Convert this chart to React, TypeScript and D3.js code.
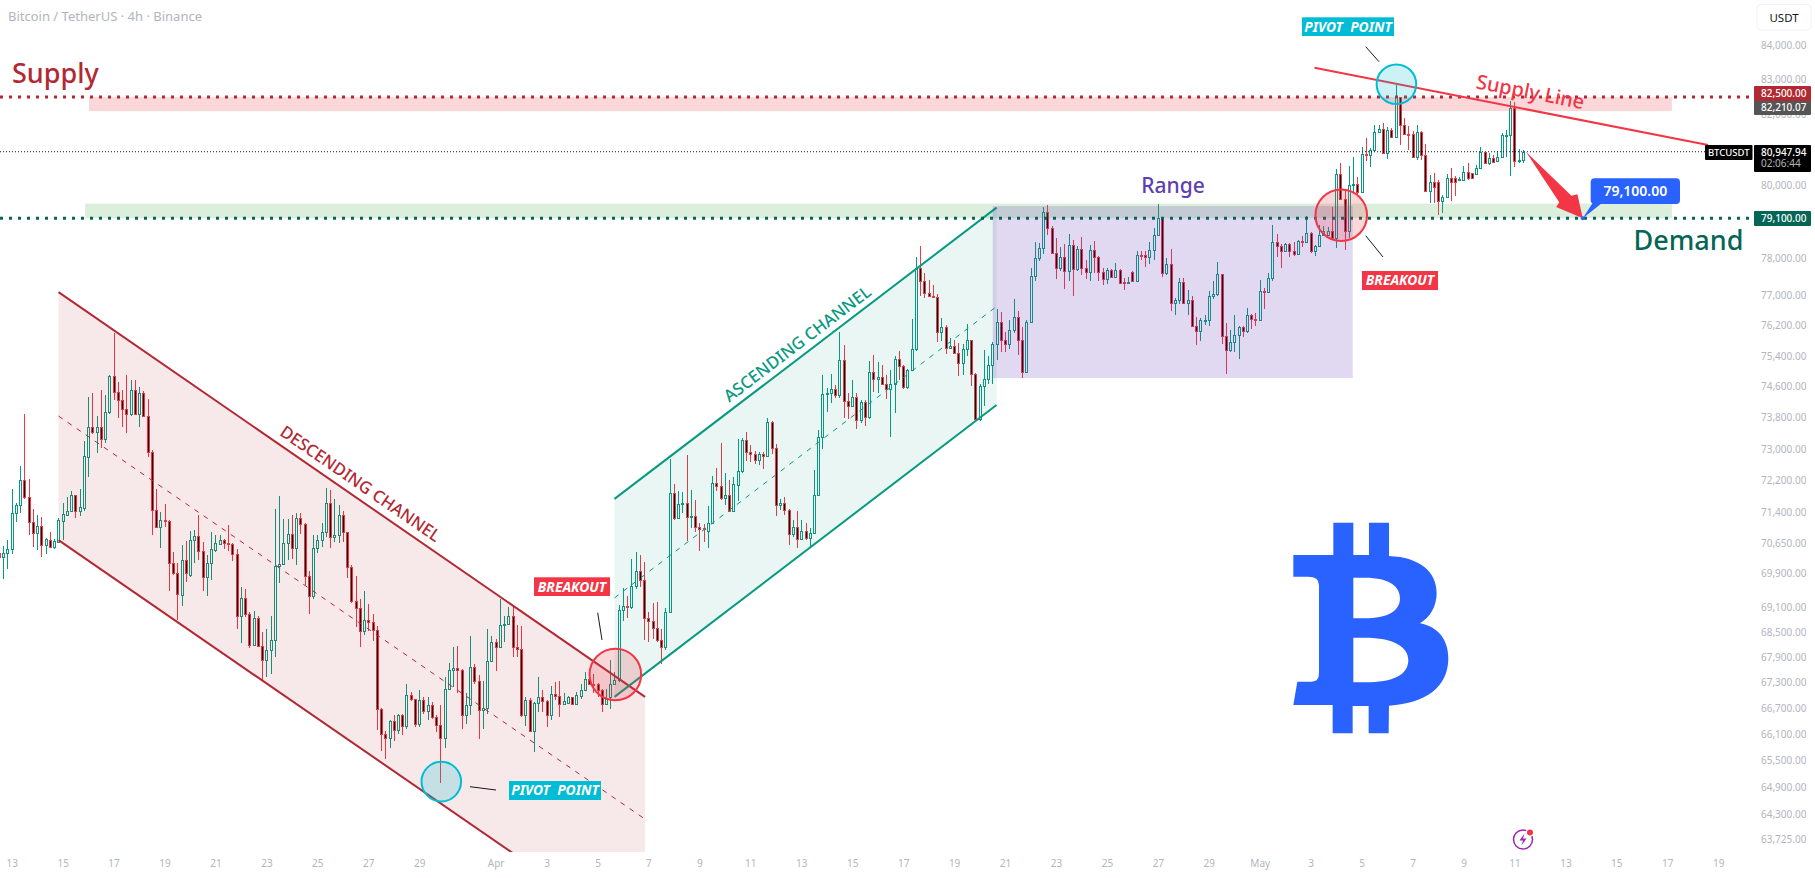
import { useEffect, useRef } from 'react'

import * as d3 from 'd3'

type Ohlc = [number, number, number, number]

// 4h candles as [open, high, low, close]
const marchCandles: Ohlc[] = [
  [70410,70430,70300,70310],[70310,70570,69770,70410],[70400,70720,70020,70510],[70510,71990,70380,71380],
  [71380,71650,71180,71600],[71600,72560,71380,72210],[72210,73900,71750,71790],[71790,72240,70840,71180],
  [71180,71480,70560,70900],[70900,71340,70480,71060],[71060,71290,70310,70590],[70590,70780,70380,70740],
  [70720,70930,70520,70560],[70560,70740,70500,70690],[70680,71260,70640,71220],[71200,71630,70720,71360],
  [71340,71780,71320,71430],[71430,71940,71410,71830],[71830,71830,71280,71430],[71450,71990,71320,71530],
  [71510,73190,71450,72810],[72800,74340,72280,73550],[73550,74430,73390,73430],[73430,73840,72900,73550],
  [73550,74510,73020,73260],[73260,74390,73160,73950],[73950,74890,73890,74870],[74870,76010,74250,74450],
  [74450,74720,73790,74250],[74250,74510,73560,74010],[74010,74890,73410,73890],[73890,74770,73840,74500],
  [74500,74780,73860,73880],[73880,74580,73550,74430],[74430,74490,73840,73850],[73850,74270,72800,72930],
  [72930,72970,70840,71460],[71460,71990,71030,71050],[71050,71420,70520,71230],[71230,71610,71050,71200],
  [71200,71220,69480,70160],[70160,70430,69880,69920],[69920,70170,68790,69400],[69390,70600,69120,70240],
  [70240,70700,69700,69920],[69880,70950,69830,70720],[70720,70970,70170,70830],[70830,71340,70230,70460],
  [70460,70680,69480,69820],[69820,70350,69370,70170],[70170,70920,69740,70500],[70480,70840,70440,70640],
  [70630,70840,70600,70720],[70720,70760,70500,70640],[70640,71100,70460,70630],[70630,70640,70210,70370],
  [70370,70500,68570,68880],[68880,69570,68230,69310],[69310,69520,68850,68920],[68920,68970,68120,68200],
  [68190,68990,68170,68830],[68830,68870,68130,68160],[68160,68490,67360,67840],[67840,68580,67440,68060],
  [68060,68890,67500,68310],[68310,71480,67910,70090],[70090,71810,69680,70130],[70130,71250,70110,70660],
  [70660,71250,70230,70880],[70880,71340,70270,70520],[70520,71400,70110,71280],[71280,71380,70860,71130],
  [71130,71150,69620,69850],[69850,69970,68920,69360],[69360,70840,69280,70540],[70540,70840,70400,70720],
  [70720,71140,70560,70920],[70920,72010,70800,71650],[71650,71970,70520,70800],[70800,71740,70680,70850],
  [70850,71580,70640,71330],[71330,71430,70680,70910],[70910,70930,69800,70070],[70070,70110,69190,69240],
  [69240,69850,68610,69060],[69060,69280,68140,68510],[68510,69480,68420,68790],[68790,69160,68520,68740],
  [68740,68920,68290,68540],[68540,68640,66200,66690],[66690,66700,65710,66100],[66100,66190,65530,66030],
  [66030,66430,65800,66400],[66400,66550,65940,66210],[66210,66580,66120,66540],[66540,66580,66080,66290],
  [66290,67270,66230,67010],[67010,67090,66880,66910],[66910,66930,66270,66350],[66350,67120,66270,66900],
  [66900,66960,66580,66640],[66640,66960,66430,66790],[66790,66850,66460,66500],[66500,66560,66150,66320],
  [66320,66770,65000,66010],[66010,67440,65780,67160],[67160,67760,67120,67610],[67610,68140,67200,67650],
  [67650,68160,67050,67610],[67610,67630,66230,66540],[66540,67050,66350,66790],[66790,68400,66540,67670],
  [67670,67750,67260,67340],[67340,67480,65990,66670],[66670,67350,66230,66710],[66710,68580,66580,67820],
  [67820,68400,67780,68270],
]

const aprilCandles: Ohlc[] = [
  [68270,68330,67570,68140],[68140,69290,68120,68670],[68670,68890,68260,68690],[68690,69100,68670,68890],
  [68890,69150,67910,68140],[68140,68660,67910,68100],[68100,68630,66500,66540],[66540,66970,66300,66900],
  [66900,66940,66150,66190],[66190,66840,65690,66820],[66820,67440,66610,66960],[66960,67130,66610,66880],
  [66880,66900,66270,66540],[66540,67220,66430,67030],[67030,67320,66900,67000],[67000,67350,66500,66800],
  [66800,67070,66770,66880],[66830,66980,66800,66960],[66960,66970,66790,66810],[66800,67090,66780,67010],
  [67000,67270,66930,67140],[67140,67540,67110,67380],[67380,67400,67260,67280],[67280,67500,67050,67260],
  [67270,67290,66970,67140],[67140,67160,66610,66800],[66800,67160,66800,66920],[66970,67840,66690,67270],
  [67270,67560,67250,67360],[67360,69140,67310,69020],[69020,69560,68770,69110],[69110,69350,68830,69100],
  [69100,70270,69050,69600],[69600,70420,69540,69970],[69970,70350,69580,69740],[69740,70190,68310,68830],
  [68830,68980,68260,68770],[68770,69190,68330,68600],[68600,69210,68260,68310],[68310,68580,67750,68140],
  [68140,69080,68080,68980],[68980,72740,68940,71900],[71900,72110,71230,71260],[71260,71940,71260,71610],
  [71610,71910,71400,71640],[71640,72840,70700,71300],[71300,71960,71020,71320],[71320,71720,70910,71050],
  [71050,71140,70460,70990],[71020,71120,70680,70990],[70950,71560,70530,71140],[71140,72320,71110,72130],
  [72130,72530,71940,72070],[72070,73140,71710,71770],[71770,72380,71590,71850],[71850,72210,71420,71440],
  [71440,72300,71420,72110],[72090,73240,71690,72450],[72450,73270,72390,73230],[73230,73430,72700,72920],
  [72920,73100,72670,72860],[72860,72940,72610,72730],[72730,72920,72590,72880],[72880,72920,72500,72820],
  [72820,73780,72810,73680],[73680,73710,72880,73030],[73030,73120,71310,71590],[71590,71750,71460,71640],
  [71640,71780,71340,71460],[71460,71490,70600,70880],[70880,71220,70800,71050],[71050,71440,70520,70740],
  [70740,71220,70720,70950],[70950,71140,70720,70780],[70780,71020,70560,70900],[70900,72460,70870,71850],
  [71850,73480,71810,73310],[73310,74900,73000,74410],[74410,74560,73950,74430],[74430,74920,74170,74530],
  [74530,74640,74300,74370],[74370,76030,74300,75300],[75300,75690,73790,74230],[74230,74430,73770,74110],
  [74110,74770,74100,74320],[74320,74430,73500,73730],[73730,74250,73670,74190],[74190,74250,73580,73820],
  [73820,75260,73770,74980],[74980,75420,74470,74790],[74790,75240,74440,74850],[74850,75160,74640,74680],
  [74680,74900,74280,74530],[74550,75030,73310,74680],[74680,75390,73920,75330],[75330,75520,74780,75140],
  [75140,75160,74530,74600],[74600,75070,74530,75040],[75040,76370,75000,75570],[75570,78030,75530,77740],
  [77740,78340,77000,77400],[77400,77600,76930,77060],[77060,77420,76960,76980],[76980,77290,76960,76970],
  [76970,77050,75770,76020],[76020,76390,75780,76150],[76150,76220,75460,75620],[75620,75880,75570,75660],
  [75660,75830,75460,75480],[75480,75740,74880,75220],[75220,75700,74910,75590],[75590,76230,75390,75830],
  [75830,75830,74620,74940],[74940,74960,73750,73760],[73760,74680,73710,74620],[74620,75550,74100,74800],
  [74800,75390,74680,75170],[75170,75770,74680,75710],[75710,76650,75290,76290],[76290,76550,75510,75830],
  [75830,76040,75490,75700],[75700,76350,75590,76070],[76070,76920,76010,76430],[76430,76590,75420,75810],
  [75810,76170,74830,74980],[74980,76350,74970,76300],[76300,77740,76280,77520],[77520,78460,77380,78010],
  [78010,78430,77920,78280],[78280,79400,78120,79260],[79260,79470,78640,78820],[78820,78890,78140,78160],
  [78160,78550,77450,77730],[77730,78300,77670,78030],[78030,78400,77170,77670],[77670,78660,77380,78360],
  [78360,78500,76980,77710],[77710,78350,77650,78260],[78260,78580,77560,77740],[77740,77960,77440,77620],
  [77620,78370,77400,78230],[78230,78480,77600,78030],[78030,78070,77380,77620],[77620,77740,77270,77440],
  [77440,77740,77310,77690],[77690,77710,77470,77490],[77490,77870,77470,77690],[77690,77720,77310,77330],
  [77350,77470,77140,77330],[77330,77510,77310,77370],[77630,77660,77350,77380],[77380,78210,77350,78090],
  [78090,78210,77960,78070],[78090,78210,77780,78030],[78030,78460,77850,78230],[78230,78820,77960,78640],
  [78640,79490,78600,79100],[79100,79140,77490,77600],[77600,78010,77560,77850],[77850,78260,76580,76800],
  [76800,76930,76470,76870],[76870,77470,76770,77360],[77360,77470,76780,76790],[76790,77150,76470,76880],
  [76880,76990,76180,76200],[76200,76420,75680,76050],[76050,76400,75790,76340],[76340,76480,76210,76360],
  [76360,77110,76200,77000],[77000,77380,76910,77040],[77040,77900,77000,77580],[77580,77590,75720,75920],
  [75920,76270,74940,75550],[75550,76090,75510,75770],[75770,76490,75500,75940],[75940,76180,75330,76160],
  [76160,76180,75890,76050],[76050,76660,76000,76490],[76490,76520,76110,76380],[76380,76530,76180,76340],
]

const mayCandles: Ohlc[] = [
  [76340,77420,76330,77120],[77120,77200,76650,77100],[77100,77600,77070,77470],[77470,78910,77380,78440],
  [78440,78660,78050,78350],[78350,78400,77750,78210],[78210,78410,78190,78400],[78400,78430,78050,78190],
  [78190,78460,78070,78130],[78130,78500,78120,78480],[78480,78600,78300,78460],[78460,79160,78430,78690],
  [78690,78710,78140,78190],[78190,78370,78070,78350],[78350,78920,78320,78640],[78640,78890,78600,78750],
  [78640,78870,78620,78750],[78750,79420,78520,78550],[78550,80460,78280,80320],[80320,80620,79600,79640],
  [79640,79880,78230,78760],[78760,80550,78550,80020],[80020,80790,79820,80040],[80040,80250,79760,79830],
  [79830,81090,79790,80880],[80880,81330,80690,80850],[80850,81040,80530,81000],[81000,81700,80950,81500],
  [81500,81700,81470,81580],[81580,81770,80900,80910],[80910,81660,80740,81560],[81560,81610,81330,81360],
  [81360,82850,81330,82500],[82500,82510,81140,81700],[81700,81900,81420,81450],[81450,81680,81000,81440],
  [81440,81520,80790,80810],[80810,81700,80720,81500],[81500,81520,80720,80860],[80860,81170,79860,79860],
  [79860,80300,79510,80110],[80110,80340,79510,79970],[80110,80160,79190,79560],[79560,79740,79250,79680],
  [79680,80330,79650,80210],[80210,80480,79560,80110],[80200,80270,79720,80090],[80150,80250,80130,80180],
  [80160,80560,80140,80370],[80370,80620,80160,80200],[80340,80360,80180,80200],[80330,80580,80300,80500],
  [80500,81090,80480,80930],[80930,80950,80620,80640],[80640,80900,80580,80780],[80780,80860,80650,80670],
  [80700,80970,80680,80810],[80810,81490,80770,81420],[81400,81550,80810,81420],[81420,82400,80280,82180],
  [82180,82370,80530,80700],[80700,81030,80620,80720],[80720,81000,80620,80950],
]

const priceTicks = [
  84000, 83000, 82000, 80000, 79000, 78000, 77000, 76200, 75400, 74600, 73800, 73000, 72200, 71400,
  70650, 69900, 69100, 68500, 67900, 67300, 66700, 66100, 65500, 64900, 64300, 63725,
]
const marchDays = [13, 15, 17, 19, 21, 23, 25, 27, 29]
const aprilDays = [1, 3, 5, 7, 9, 11, 13, 15, 17, 19, 21, 23, 25, 27, 29]
const mayDays = [1, 3, 5, 7, 9, 11, 13, 15, 17, 19]

const supplyLevel = 82500
const demandLevel = 79100
const lastPrice = 80947.94
const avgPrice = 82210.07

// drawing anchors as [bar number, price]
const descUpper = [[13.03, 77093], [151.2, 66970]]
const descMiddle = [[13.03, 73839], [151.2, 64182]]
const descLower = [[13.03, 70721], [151.2, 61450]]
const ascUpper = [[144, 71744], [234, 79390]]
const ascMiddle = [[144, 69316], [234, 76707]]
const ascLower = [[144, 66970], [234, 74122]]
const rangeBox = [[233.1, 79433], [317.9, 74821]]
const supplyZone = [[20.2, 82500], [393.1, 82100]]
const demandZone = [[19.3, 79500], [393.1, 79100]]
const supplyLine = [[308.9, 83348], [401.6, 81137]]
const redCircles = [[144.2, 67493], [315.2, 79181]]
const tealCircles = [[103.2, 65025], [328.2, 82868]]
const arrowEnds = [[358.7, 80947.94], [372.1, 79100]]

const FONT = "'Noto Sans', sans-serif"
const WIDTH = 1815
const HEIGHT = 878
const PANE_W = 1754
const PANE_H = 852
const UP = '#089981'
const DOWN = '#f23645'
const H4 = 4 * 3600 * 1000

export default function App() {
  const svgRef = useRef<SVGSVGElement>(null)

  useEffect(() => {
    if (!svgRef.current) return
    const svg = d3.select(svgRef.current)
    svg.selectAll('*').remove()

    const yScale = d3.scaleLog().domain([63725, 84000]).range([839.7, 45.3])
    const xScale = d3
      .scaleUtc()
      .domain([Date.UTC(2026, 2, 13), Date.UTC(2026, 4, 19)])
      .range([11.7, 1718.2])

    const barTime = (n: number) => Date.UTC(2026, 2, 12, 16) + n * H4
    const barX = (n: number) => xScale(barTime(n))
    const px = (p: number[]) => [barX(p[0]), yScale(p[1])]

    svg
      .append('defs')
      .append('clipPath')
      .attr('id', 'pane')
      .append('rect')
      .attr('width', PANE_W)
      .attr('height', PANE_H)

    // Axes
    const dayTicks = [
      ...marchDays.map((d) => new Date(Date.UTC(2026, 2, d))),
      ...aprilDays.map((d) => new Date(Date.UTC(2026, 3, d))),
      ...mayDays.map((d) => new Date(Date.UTC(2026, 4, d))),
    ]
    const xAxis = svg
      .append('g')
      .attr('transform', `translate(0,${PANE_H + 2})`)
      .call(
        d3
          .axisBottom(xScale)
          .tickValues(dayTicks)
          .tickSize(0)
          .tickPadding(6)
          .tickFormat((d) => {
            const t = d as Date
            if (t.getUTCDate() === 1) return d3.utcFormat('%b')(t)
            return String(t.getUTCDate())
          }),
      )
    xAxis.select('.domain').remove()
    xAxis
      .selectAll('text')
      .attr('font-family', FONT)
      .attr('font-size', 10)
      .attr('fill', '#b2b5be')

    const yAxis = svg
      .append('g')
      .attr('transform', 'translate(1761,0)')
      .call(d3.axisRight(yScale).tickValues(priceTicks).tickSize(0).tickPadding(0).tickFormat(d3.format(',.2f') as any))
    yAxis.select('.domain').remove()
    yAxis
      .selectAll('text')
      .attr('font-family', FONT)
      .attr('font-size', 10)
      .attr('fill', '#b2b5be')

    const pane = svg.append('g').attr('clip-path', 'url(#pane)')

    // Candles
    const bars = [...marchCandles, ...aprilCandles, ...mayCandles].map((c, i) => ({
      n: i - 1,
      open: c[0],
      high: c[1],
      low: c[2],
      close: c[3],
      up: c[3] >= c[0],
    }))
    const candleX = (n: number) => Math.round(barX(n)) + 0.5
    const candles = pane.append('g').attr('shape-rendering', 'crispEdges')
    candles
      .selectAll('line')
      .data(bars)
      .join('line')
      .attr('x1', (d) => candleX(d.n))
      .attr('x2', (d) => candleX(d.n))
      .attr('y1', (d) => yScale(d.high))
      .attr('y2', (d) => yScale(d.low))
      .attr('stroke', (d) => (d.up ? UP : DOWN))
    candles
      .selectAll('rect')
      .data(bars)
      .join('rect')
      .attr('x', (d) => candleX(d.n) - 1)
      .attr('width', 2)
      .attr('y', (d) => Math.round(yScale(Math.max(d.open, d.close))) + 0.5)
      .attr('height', (d) =>
        Math.max(1, Math.round(yScale(Math.min(d.open, d.close))) - Math.round(yScale(Math.max(d.open, d.close)))),
      )
      .attr('fill', (d) => (d.up ? '#ffffff' : '#000000'))
      .attr('stroke', (d) => (d.up ? UP : DOWN))

    // Zones and channels
    const zone = (box: number[][], fill: string) => {
      const [a, b] = [px(box[0]), px(box[1])]
      pane
        .append('rect')
        .attr('x', a[0])
        .attr('y', Math.min(a[1], b[1]))
        .attr('width', b[0] - a[0])
        .attr('height', Math.abs(b[1] - a[1]))
        .attr('fill', fill)
    }
    zone(supplyZone, 'rgba(242,54,69,0.2)')
    zone(demandZone, 'rgba(76,175,80,0.2)')

    const line = d3.line<number[]>()
    const polygon = (pts: number[][], fill: string) =>
      pane.append('path').attr('d', `${line(pts.map(px))}Z`).attr('fill', fill)
    const segment = (pts: number[][], stroke: string, width: number, dash?: string) =>
      pane
        .append('path')
        .attr('d', line(pts.map(px)))
        .attr('fill', 'none')
        .attr('stroke', stroke)
        .attr('stroke-width', width)
        .attr('stroke-dasharray', dash ?? null)

    polygon([descUpper[0], descUpper[1], descLower[1], descLower[0]], 'rgba(178,40,51,0.1)')
    segment(descUpper, '#b22833', 2)
    segment(descLower, '#b22833', 2)
    segment(descMiddle, '#b22833', 1, '5 6')

    polygon([ascUpper[0], ascUpper[1], ascLower[1], ascLower[0]], 'rgba(8,153,129,0.09)')
    segment(ascUpper, UP, 2)
    segment(ascLower, UP, 2)
    segment(ascMiddle, UP, 1, '5 6')

    zone(rangeBox, 'rgba(103,58,183,0.2)')

    // Horizontal levels
    const level = (price: number, stroke: string, width: number, dash: string, x2: number) =>
      pane
        .append('line')
        .attr('x1', 0)
        .attr('x2', x2)
        .attr('y1', yScale(price))
        .attr('y2', yScale(price))
        .attr('stroke', stroke)
        .attr('stroke-width', width)
        .attr('stroke-dasharray', dash)
    level(lastPrice, '#131722', 1, '1 2', 1705)
    level(supplyLevel, '#b22833', 3, '3 6', 1750)
    level(demandLevel, '#056656', 3, '3 6', 1750)

    segment(supplyLine, DOWN, 2)

    // Circles
    const circle = (p: number[], r: number, stroke: string, fill: string) =>
      pane
        .append('circle')
        .attr('cx', px(p)[0])
        .attr('cy', px(p)[1])
        .attr('r', r)
        .attr('fill', fill)
        .attr('stroke', stroke)
        .attr('stroke-width', 2)
    redCircles.forEach((p) => circle(p, 25.8, DOWN, 'rgba(242,54,69,0.2)'))
    tealCircles.forEach((p) => circle(p, 19.8, '#00bcd4', 'rgba(0,188,212,0.2)'))

    // Big arrow towards the demand level
    const [from, tip] = arrowEnds.map(px)
    const dx = tip[0] - from[0]
    const dy = tip[1] - from[1]
    const len = Math.hypot(dx, dy)
    const along = (a: number, b: number) => [
      from[0] + (a * dx) / len - (b * dy) / len,
      from[1] + (a * dy) / len + (b * dx) / len,
    ]
    pane
      .append('path')
      .attr(
        'd',
        `${line([from, along(63, -6), along(65.8, -11.5), tip, along(61.7, 13), along(60, 7.5)])}Z`,
      )
      .attr('fill', DOWN)

    // Thin pointer strokes
    const pointers = [
      [1365.7, 46.7, 1379, 61.7],
      [1365.7, 235.7, 1383, 257],
      [597.7, 612.7, 602, 640],
      [470, 786.7, 496, 790],
    ]
    svg
      .append('g')
      .selectAll('line')
      .data(pointers)
      .join('line')
      .attr('x1', (d) => d[0])
      .attr('y1', (d) => d[1])
      .attr('x2', (d) => d[2])
      .attr('y2', (d) => d[3])
      .attr('stroke', '#131722')
      .attr('stroke-width', 1)

    // Filled labels
    const tag = (x: number, y: number, w: number, h: number, fill: string, label: string) => {
      svg.append('rect').attr('x', x).attr('y', y).attr('width', w).attr('height', h).attr('fill', fill)
      svg
        .append('text')
        .attr('x', x + w / 2)
        .attr('y', y + h / 2)
        .attr('dy', '0.36em')
        .attr('text-anchor', 'middle')
        .attr('font-family', FONT)
        .attr('font-size', 13.8)
        .attr('font-weight', 700)
        .attr('font-style', 'italic')
        .style('white-space', 'pre')
        .attr('fill', '#ffffff')
        .text(label)
    }
    tag(534, 577.3, 76, 18.7, DOWN, 'BREAKOUT')
    tag(1362, 271, 76, 19, DOWN, 'BREAKOUT')
    tag(1302, 17.3, 92, 18.7, '#00bcd4', 'PIVOT  POINT')
    tag(509, 781, 92, 19, '#00bcd4', 'PIVOT  POINT')

    // Free text
    const note = (x: number, y: number, label: string, size: number, fill: string, rotate = 0, weight = 500) =>
      svg
        .append('text')
        .attr('transform', `translate(${x},${y}) rotate(${rotate})`)
        .attr('text-anchor', 'middle')
        .attr('font-family', FONT)
        .attr('font-size', size)
        .attr('font-weight', weight)
        .attr('fill', fill)
        .text(label)
    note(55.3, 82.7, 'Supply', 27, '#b22833')
    note(1688.5, 250, 'Demand', 27, '#056656')
    note(1173, 192.7, 'Range', 21, '#5e3fb0')
    note(1529, 98.7, 'Supply Line', 20, DOWN, 11.1, 500)
    note(357, 488.5, 'DESCENDING CHANNEL', 16.8, '#b22833', 34.6, 500)
    note(800.8, 348.5, 'ASCENDING CHANNEL', 16.8, UP, -37.2, 500)

    svg
      .append('text')
      .attr('x', 8)
      .attr('y', 21)
      .attr('font-family', FONT)
      .attr('font-size', 13)
      .attr('fill', '#b2b5be')
      .text('Bitcoin / TetherUS · 4h · Binance')

    // Target callout
    svg
      .append('path')
      .attr('d', line([tip, [1593.3, 202], [1603.3, 202]]))
      .attr('fill', '#2962ff')
    svg
      .append('rect')
      .attr('x', 1590.7)
      .attr('y', 178.3)
      .attr('width', 89.3)
      .attr('height', 25.7)
      .attr('rx', 4)
      .attr('fill', '#2962ff')
    svg
      .append('circle')
      .attr('cx', tip[0])
      .attr('cy', tip[1])
      .attr('r', 2)
      .attr('fill', '#2962ff')
    svg
      .append('text')
      .attr('x', 1635.3)
      .attr('y', 195.5)
      .attr('text-anchor', 'middle')
      .attr('font-family', FONT)
      .attr('font-size', 14)
      .attr('font-weight', 600)
      .attr('fill', '#ffffff')
      .text(d3.format(',.2f')(demandLevel))

    // Bitcoin sign
    svg
      .append('path')
      .attr('transform', 'translate(1250,500) scale(0.3333)')
      .attr('fill-rule', 'evenodd')
      .attr('fill', '#2962ff')
      .attr(
        'd',
        'M130,165 L250,165 L250,68 L310,68 L310,165 L357,165 L357,68 L417,68 L417,168 ' +
          'C510,172 560,215 560,280 C560,320 540,352 510,370 C565,380 595,420 595,475 C595,560 530,610 417,617 ' +
          'L416,700 L356,700 L356,618 L308,618 L308,700 L248,700 L248,615 L130,615 L142,545 L185,545 ' +
          'Q207,545 207,520 L207,255 Q207,230 175,230 L130,230 Z ' +
          'M310,233 L345,233 C420,233 450,260 450,295 C450,335 410,355 345,355 L310,355 Z ' +
          'M310,413 L345,413 C430,413 475,440 475,480 C475,525 430,547 345,547 L310,547 Z',
      )

    // Flash icon
    const icon = svg.append('g').attr('transform', 'translate(1523,839.5)')
    icon.append('circle').attr('r', 9.5).attr('fill', 'none').attr('stroke', '#9c27b0').attr('stroke-width', 1.5)
    icon.append('path').attr('d', 'M1.5,-6 L-3.5,1 L0,1 L-1.5,6 L3.5,-1 L0,-1 Z').attr('fill', '#9c27b0')
    icon.append('circle').attr('cx', 7).attr('cy', -7).attr('r', 4.2).attr('fill', '#ffffff')
    icon.append('circle').attr('cx', 7).attr('cy', -7).attr('r', 3).attr('fill', DOWN)

    // Price scale tags
    const priceTag = (y: number, h: number, fill: string, label: string) => {
      svg.append('rect').attr('x', 1754).attr('y', y).attr('width', 57).attr('height', h).attr('rx', 1).attr('fill', fill)
      svg
        .append('text')
        .attr('x', 1761)
        .attr('y', y + 7.5)
        .attr('dy', '0.3em')
        .attr('font-family', FONT)
        .attr('font-size', 10)
        .attr('font-weight', 500)
        .attr('fill', '#ffffff')
        .text(label)
    }
    const fmt = d3.format(',.2f')
    priceTag(Math.round(yScale(lastPrice)) - 7, 27, '#000000', fmt(lastPrice))
    svg
      .append('text')
      .attr('x', 1761)
      .attr('y', 167)
      .attr('font-family', FONT)
      .attr('font-size', 10)
      .attr('fill', '#b2b5be')
      .text('02:06:44')
    priceTag(Math.round(yScale(avgPrice)) - 7, 15, '#555555', fmt(avgPrice))
    priceTag(Math.round(yScale(supplyLevel)) - 11, 15, '#b22833', fmt(supplyLevel))
    priceTag(Math.round(yScale(demandLevel)) - 7, 15, '#056656', fmt(demandLevel))

    svg.append('rect').attr('x', 1705).attr('y', 145).attr('width', 47.5).attr('height', 15).attr('rx', 1).attr('fill', '#000000')
    svg
      .append('text')
      .attr('x', 1728.7)
      .attr('y', 156)
      .attr('text-anchor', 'middle')
      .attr('font-family', FONT)
      .attr('font-size', 9.5)
      .attr('font-weight', 500)
      .attr('fill', '#ffffff')
      .text('BTCUSDT')

    // Currency button
    svg
      .append('rect')
      .attr('x', 1757)
      .attr('y', 4.5)
      .attr('width', 54)
      .attr('height', 25.5)
      .attr('rx', 4)
      .attr('fill', '#ffffff')
      .attr('stroke', '#f0f3fa')
      .attr('stroke-width', 1)
    svg
      .append('text')
      .attr('x', 1784)
      .attr('y', 21.5)
      .attr('text-anchor', 'middle')
      .attr('font-family', FONT)
      .attr('font-size', 11.5)
      .attr('fill', '#131722')
      .text('USDT')
  }, [])

  return (
    <svg
      ref={svgRef}
      width={WIDTH}
      height={HEIGHT}
      style={{ position: 'absolute', left: 0, top: 0, display: 'block', background: '#ffffff' }}
    />
  )
}
